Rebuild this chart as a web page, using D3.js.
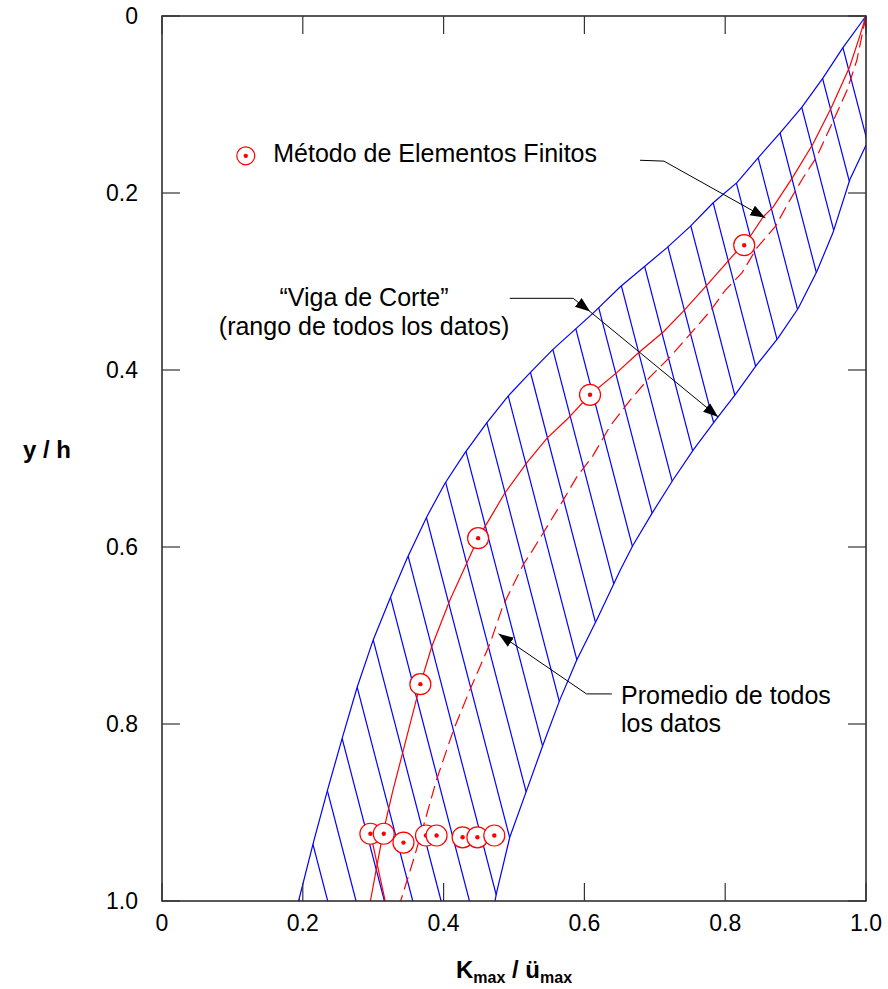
<!DOCTYPE html>
<html>
<head>
<meta charset="utf-8">
<script src="https://cdn.jsdelivr.net/npm/d3@7"></script>
<style>
  body { margin: 0; background: #fff; }
  svg { font-family: "Liberation Sans", Arial, sans-serif; }
</style>
</head>
<body>
<svg id="chart" width="888" height="989"></svg>
<script>
// x = Kmax / ümax, y = y / h  (y grows downward)
// upper-left edge of the "viga de corte" range
const bandLeft = [
  [1.000,0.000],[0.967,0.036],[0.939,0.070],[0.909,0.103],[0.878,0.132],[0.847,0.160],
  [0.817,0.188],[0.783,0.211],[0.750,0.238],[0.717,0.262],[0.651,0.306],[0.612,0.336],
  [0.555,0.377],[0.523,0.403],[0.491,0.430],[0.461,0.460],[0.430,0.494],[0.402,0.528],
  [0.376,0.566],[0.348,0.613],[0.324,0.658],[0.300,0.705],[0.277,0.759],[0.256,0.816],
  [0.235,0.875],[0.215,0.934],[0.194,1.000]
];
// lower-right edge of the range
const bandRight = [
  [1.000,0.000],[1.000,0.146],[0.977,0.185],[0.953,0.245],[0.930,0.289],[0.904,0.330],
  [0.875,0.364],[0.845,0.394],[0.814,0.428],[0.786,0.457],[0.755,0.490],[0.726,0.524],
  [0.696,0.562],[0.669,0.598],[0.651,0.626],[0.619,0.680],[0.589,0.728],[0.565,0.773],
  [0.541,0.824],[0.518,0.875],[0.494,0.928],[0.476,0.988],[0.473,1.000]
];
// finite element curve (solid red)
const femLine = [
  [1.000,0.000],[0.991,0.023],[0.977,0.057],[0.951,0.103],[0.925,0.144],[0.896,0.182],
  [0.868,0.216],[0.854,0.227],[0.827,0.259],[0.814,0.268],[0.774,0.304],[0.740,0.334],
  [0.712,0.357],[0.676,0.381],[0.646,0.403],[0.608,0.428],[0.575,0.456],[0.547,0.477],
  [0.518,0.505],[0.487,0.539],[0.470,0.562],[0.449,0.590],[0.433,0.618],[0.409,0.660],
  [0.383,0.713],[0.367,0.755],[0.343,0.829],[0.328,0.875],[0.314,0.923],[0.296,1.000]
];
const femTail = [[0.296,0.923],[0.317,1.000]];
// average of all data (dashed red)
const avgLine = [
  [1.000,0.000],[0.987,0.050],[0.973,0.084],[0.952,0.121],[0.930,0.159],[0.909,0.185],
  [0.892,0.208],[0.871,0.238],[0.845,0.262],[0.824,0.290],[0.800,0.310],[0.778,0.334],
  [0.753,0.357],[0.722,0.385],[0.693,0.408],[0.665,0.434],[0.636,0.464],[0.612,0.497],
  [0.589,0.521],[0.570,0.547],[0.547,0.577],[0.527,0.603],[0.513,0.620],[0.484,0.667],
  [0.466,0.709],[0.437,0.762],[0.414,0.807],[0.390,0.863],[0.374,0.908],[0.357,0.954],
  [0.339,1.000]
];
// finite element points
const femPoints = [
  [0.827,0.259],[0.608,0.428],[0.449,0.590],[0.367,0.755],
  [0.296,0.924],[0.315,0.924],[0.343,0.934],[0.375,0.926],[0.390,0.926],
  [0.427,0.928],[0.448,0.928],[0.472,0.926]
];
const tickValues = [0, 0.2, 0.4, 0.6, 0.8, 1.0];
const tickLabels = ["0", "0.2", "0.4", "0.6", "0.8", "1.0"];

const W = 888, H = 989;
const m = { left: 162, top: 16, right: 22, bottom: 88 };
const cw = W - m.left - m.right, ch = H - m.top - m.bottom;

const svg = d3.select("#chart");
const x = d3.scaleLinear().domain([0, 1]).range([0, cw]);
const y = d3.scaleLinear().domain([0, 1]).range([0, ch]);
const g = svg.append("g").attr("transform", `translate(${m.left},${m.top})`);

const defs = svg.append("defs");
defs.append("marker").attr("id", "arrow")
  .attr("markerUnits", "userSpaceOnUse")
  .attr("markerWidth", 16).attr("markerHeight", 12)
  .attr("refX", 15).attr("refY", 5.5).attr("orient", "auto")
  .append("path").attr("d", "M0,0 L15,5.5 L0,11 Z").attr("fill", "#000");

const line = d3.line().x(d => x(d[0])).y(d => y(d[1]));

// band outline as clip for the hatching
const band = bandLeft.concat(bandRight.slice().reverse());
defs.append("clipPath").attr("id", "bandClip")
  .append("path").datum(band).attr("d", d => line(d) + "Z");

// hatching: parallel lines leaning down-right
const slope = 0.26, gapX = 28.35, x0 = 672.7;
const hatch = d3.range(-2, 30).map(k => x0 - k * gapX);
g.append("g").attr("clip-path", "url(#bandClip)")
  .selectAll("line").data(hatch).enter().append("line")
  .attr("x1", d => d).attr("y1", 0)
  .attr("x2", d => d + slope * ch).attr("y2", ch)
  .attr("stroke", "#0000ff").attr("stroke-width", 1.2);

g.append("path").datum(bandLeft).attr("d", line)
  .attr("fill", "none").attr("stroke", "#0000ff").attr("stroke-width", 1.2);
g.append("path").datum(bandRight.slice(1)).attr("d", line)
  .attr("fill", "none").attr("stroke", "#0000ff").attr("stroke-width", 1.2);

// red curves
g.append("path").datum(avgLine).attr("d", line)
  .attr("fill", "none").attr("stroke", "#ff0000").attr("stroke-width", 1.2)
  .attr("stroke-dasharray", "13,6");
g.append("path").datum(femLine).attr("d", line)
  .attr("fill", "none").attr("stroke", "#ff0000").attr("stroke-width", 1.2);
g.append("path").datum(femTail).attr("d", line)
  .attr("fill", "none").attr("stroke", "#ff0000").attr("stroke-width", 1.2);

// markers
const mk = g.append("g").selectAll("g").data(femPoints).enter().append("g")
  .attr("transform", d => `translate(${x(d[0])},${y(d[1])})`);
mk.append("circle").attr("r", 10.5).attr("fill", "#fff")
  .attr("stroke", "#ff0000").attr("stroke-width", 1.2);
mk.append("circle").attr("r", 2.2).attr("fill", "#ff0000");

// frame + inner ticks
g.append("rect").attr("width", cw).attr("height", ch)
  .attr("fill", "none").attr("stroke", "#222").attr("stroke-width", 1.5);
const tk = 18;
const tg = g.append("g").attr("stroke", "#333").attr("stroke-width", 1.2);
tickValues.forEach(v => {
  tg.append("line").attr("x1", x(v)).attr("x2", x(v)).attr("y1", ch).attr("y2", ch - tk);
  tg.append("line").attr("x1", x(v)).attr("x2", x(v)).attr("y1", 0).attr("y2", tk);
  tg.append("line").attr("y1", y(v)).attr("y2", y(v)).attr("x1", 0).attr("x2", tk);
  tg.append("line").attr("y1", y(v)).attr("y2", y(v)).attr("x1", cw).attr("x2", cw - tk);
});

// tick labels
g.append("g").selectAll("text").data(tickValues).enter().append("text")
  .attr("x", d => x(d)).attr("y", ch + 30).attr("text-anchor", "middle")
  .attr("font-size", 23).attr("fill", "#000").text((d, i) => tickLabels[i]);
g.append("g").selectAll("text").data(tickValues).enter().append("text")
  .attr("x", -24).attr("y", d => y(d)).attr("dy", "0.36em").attr("text-anchor", "end")
  .attr("font-size", 23).attr("fill", "#000").text((d, i) => tickLabels[i]);

// axis titles
svg.append("text").attr("x", 23).attr("y", m.top + ch / 2 - 0.5)
  .attr("font-size", 24).attr("font-weight", "bold").text("y / h");
const xt = svg.append("text").attr("x", m.left + cw / 2).attr("y", 978)
  .attr("text-anchor", "middle").attr("font-size", 24).attr("font-weight", "bold");
xt.append("tspan").text("K");
xt.append("tspan").attr("font-size", 16).attr("dy", 5).text("max");
xt.append("tspan").attr("dy", -5).text(" / ü");
xt.append("tspan").attr("font-size", 16).attr("dy", 5).text("max");

// legend
const legendPos = [0.119, 0.158];
const lg = g.append("g").attr("transform", `translate(${x(legendPos[0])},${y(legendPos[1])})`);
lg.append("circle").attr("r", 9).attr("fill", "#fff").attr("stroke", "#ff0000").attr("stroke-width", 1.2);
lg.append("circle").attr("r", 2.2).attr("fill", "#ff0000");
g.append("text").attr("x", x(0.158)).attr("y", y(0.165))
  .attr("font-size", 25).text("Método de Elementos Finitos");

// annotations
const annoFem = [[0.679,0.163],[0.713,0.164],[0.857,0.228]];
const annoViga1 = [[0.494,0.319],[0.584,0.319],[0.608,0.334]];
const annoViga2 = [[0.608,0.334],[0.790,0.453]];
const annoAvg = [[0.639,0.766],[0.603,0.766],[0.478,0.698]];
[annoFem, annoViga1, annoViga2, annoAvg].forEach(a => {
  g.append("path").datum(a).attr("d", line)
    .attr("fill", "none").attr("stroke", "#000").attr("stroke-width", 1)
    .attr("marker-end", "url(#arrow)");
});

g.append("text").attr("x", x(0.287)).attr("y", y(0.328)).attr("text-anchor", "middle")
  .attr("font-size", 25).text("\u201CViga de Corte\u201D");
g.append("text").attr("x", x(0.287)).attr("y", y(0.360)).attr("text-anchor", "middle")
  .attr("font-size", 25).text("(rango de todos los datos)");
g.append("text").attr("x", x(0.652)).attr("y", y(0.777))
  .attr("font-size", 25).text("Promedio de todos");
g.append("text").attr("x", x(0.652)).attr("y", y(0.809))
  .attr("font-size", 25).text("los datos");
</script>
</body>
</html>
